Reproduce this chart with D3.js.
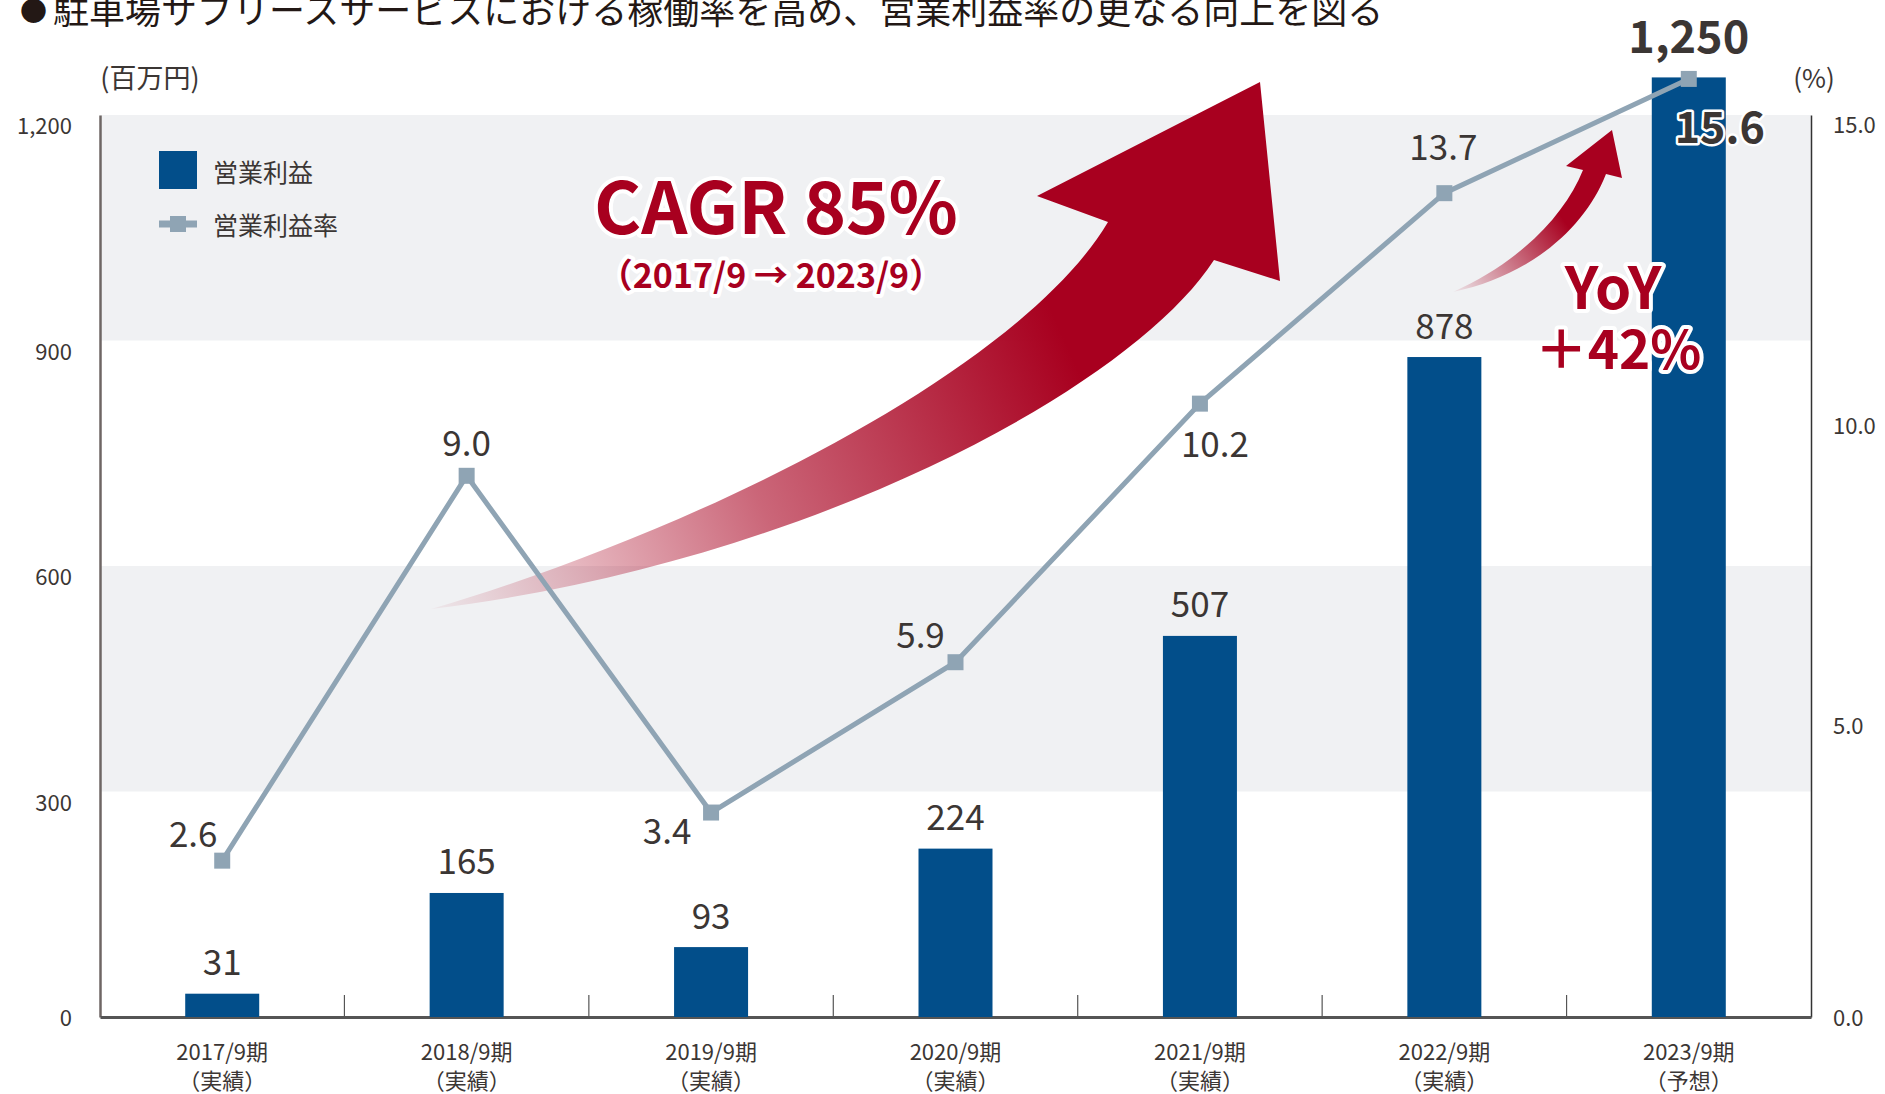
<!DOCTYPE html>
<html>
<head>
<meta charset="utf-8">
<script src="https://cdn.jsdelivr.net/npm/d3@7"></script>
<style>
  html, body { margin: 0; padding: 0; background: #fff; }
  svg { display: block; font-family: "Noto Sans CJK JP", "Noto Sans", sans-serif; }
</style>
</head>
<body>
<div id="target"></div>
<script>
// data
const categories = ['2017/9期', '2018/9期', '2019/9期', '2020/9期', '2021/9期', '2022/9期', '2023/9期']
const categoryNotes = ['（実績）', '（実績）', '（実績）', '（実績）', '（実績）', '（実績）', '（予想）']
const operatingProfit = [31, 165, 93, 224, 507, 878, 1250]
const profitRate = [2.6, 9.0, 3.4, 5.9, 10.2, 13.7, 15.6]
const leftTicks = [0, 300, 600, 900, 1200]
const rightTicks = [0, 5, 10, 15]

const colors = {
    bar: '#024e8a',
    line: '#8fa4b4',
    band: '#f0f1f3',
    text: '#3b3634',
    red: '#a8001f',
    axis: '#6e6664'
}

const width = 1885
const height = 1094
const margin = { left: 100, right: 1811, top: 115, bottom: 1017 }
const barWidth = 74

// label offsets for the rate line, relative to each marker
const rateLabelOffsets = [[-29, -29], [0, -35], [-44, 16], [-35, -30], [15, 38], [-1, -49], [31, 45]]

const svg = d3.select('#target').append('svg')
    .attr('width', width)
    .attr('height', height)

const x = d3.scaleBand()
    .domain(categories)
    .range([margin.left, margin.right])

const yLeft = d3.scaleLinear()
    .domain([0, 1200])
    .range([margin.bottom, margin.top])

const yRight = d3.scaleLinear()
    .domain([0, 15])
    .range([margin.bottom, margin.top])

const cx = c => x(c) + x.bandwidth() / 2

// grey bands
const bandPairs = [[300, 600], [900, 1200]]
svg.append('g')
    .selectAll('rect')
    .data(bandPairs)
    .enter()
    .append('rect')
    .attr('x', margin.left)
    .attr('width', margin.right - margin.left)
    .attr('y', d => yLeft(d[1]))
    .attr('height', d => yLeft(d[0]) - yLeft(d[1]))
    .attr('fill', colors.band)

// title
const title = svg.append('text')
    .attr('x', 20)
    .attr('y', 8)
    .attr('dominant-baseline', 'central')
    .attr('font-size', 36)
    .attr('fill', '#231815')
title.append('tspan')
    .attr('font-size', 27)
    .attr('dy', 1)
    .text('●')
title.append('tspan')
    .attr('dx', 6)
    .attr('dy', -1)
    .text('駐車場サブリースサービスにおける稼働率を高め、営業利益率の更なる向上を図る')

// unit labels
svg.append('text')
    .attr('x', 150).attr('y', 76)
    .attr('text-anchor', 'middle')
    .attr('dominant-baseline', 'central')
    .attr('font-size', 27)
    .attr('fill', colors.text)
    .text('(百万円)')

svg.append('text')
    .attr('x', 1814).attr('y', 76)
    .attr('text-anchor', 'middle')
    .attr('dominant-baseline', 'central')
    .attr('font-size', 26)
    .attr('fill', colors.text)
    .text('(%)')

// left axis
const leftAxis = svg.append('g')
    .attr('transform', `translate(${margin.left},0)`)
    .call(d3.axisLeft(yLeft).tickValues(leftTicks).tickSize(0).tickFormat(d3.format(',')))
leftAxis.select('.domain').attr('stroke', colors.axis).attr('stroke-width', 2.5)
leftAxis.selectAll('text')
    .attr('x', -28)
    .attr('dy', d => d === 0 ? '0.4em' : '0.85em')
    .attr('font-size', 22)
    .attr('font-family', '"Noto Sans CJK JP", sans-serif')
    .attr('fill', colors.text)

// right axis
const rightAxis = svg.append('g')
    .attr('transform', `translate(${margin.right},0)`)
    .call(d3.axisRight(yRight).tickValues(rightTicks).tickSize(0).tickFormat(d3.format('.1f')))
rightAxis.select('.domain').attr('stroke', '#333').attr('stroke-width', 1.5)
rightAxis.selectAll('text')
    .attr('x', 22)
    .attr('dy', d => d === 0 ? '0.4em' : '0.8em')
    .attr('font-size', 22)
    .attr('font-family', '"Noto Sans CJK JP", sans-serif')
    .attr('fill', colors.text)

// bottom axis
const bottomAxis = svg.append('g')
    .attr('transform', `translate(0,${margin.bottom})`)
    .call(d3.axisBottom(x).tickSize(0).tickFormat(''))
bottomAxis.select('.domain').attr('stroke', '#555').attr('stroke-width', 3)

// separators between categories
svg.append('g')
    .selectAll('line')
    .data(categories.slice(1))
    .enter()
    .append('line')
    .attr('x1', d => x(d)).attr('x2', d => x(d))
    .attr('y1', margin.bottom - 22).attr('y2', margin.bottom)
    .attr('stroke', '#555')
    .attr('stroke-width', 1.2)

// category labels
const catLabels = svg.append('g')
    .selectAll('text')
    .data(categories)
    .enter()
    .append('text')
    .attr('text-anchor', 'middle')
    .attr('font-size', 22)
    .attr('fill', colors.text)
catLabels.append('tspan')
    .attr('x', d => cx(d))
    .attr('y', 1050)
    .attr('dominant-baseline', 'central')
    .text(d => d)
catLabels.append('tspan')
    .attr('x', d => cx(d))
    .attr('y', 1079)
    .attr('dominant-baseline', 'central')
    .text((d, i) => categoryNotes[i])

// gradients for arrows
const defs = svg.append('defs')
const bigGrad = defs.append('linearGradient')
    .attr('id', 'bigGrad')
    .attr('gradientUnits', 'userSpaceOnUse')
    .attr('x1', 431).attr('y1', 609)
    .attr('x2', 1060).attr('y2', 330)
bigGrad.append('stop').attr('offset', 0).attr('stop-color', colors.red).attr('stop-opacity', 0.04)
bigGrad.append('stop').attr('offset', 0.5).attr('stop-color', colors.red).attr('stop-opacity', 0.6)
bigGrad.append('stop').attr('offset', 1).attr('stop-color', colors.red).attr('stop-opacity', 1)

const smallGrad = defs.append('linearGradient')
    .attr('id', 'smallGrad')
    .attr('gradientUnits', 'userSpaceOnUse')
    .attr('x1', 1453).attr('y1', 292)
    .attr('x2', 1560).attr('y2', 215)
smallGrad.append('stop').attr('offset', 0).attr('stop-color', colors.red).attr('stop-opacity', 0.05)
smallGrad.append('stop').attr('offset', 1).attr('stop-color', colors.red).attr('stop-opacity', 1)

// CAGR arrow
const bigArrow = d3.path()
bigArrow.moveTo(431, 609)
bigArrow.bezierCurveTo(700, 530, 1020, 370, 1108, 222)
bigArrow.lineTo(1037, 196)
bigArrow.lineTo(1260, 82)
bigArrow.lineTo(1280, 281)
bigArrow.lineTo(1214, 260)
bigArrow.bezierCurveTo(1130, 390, 800, 565, 431, 609)
bigArrow.closePath()
svg.append('path')
    .attr('d', bigArrow.toString())
    .attr('fill', 'url(#bigGrad)')

// YoY arrow
const smallArrow = d3.path()
smallArrow.moveTo(1453, 292)
smallArrow.bezierCurveTo(1520, 262, 1565, 215, 1583, 170)
smallArrow.lineTo(1566, 166)
smallArrow.lineTo(1612, 130)
smallArrow.lineTo(1622, 178)
smallArrow.lineTo(1606, 174)
smallArrow.bezierCurveTo(1585, 228, 1530, 276, 1453, 292)
smallArrow.closePath()
svg.append('path')
    .attr('d', smallArrow.toString())
    .attr('fill', 'url(#smallGrad)')

// bars
svg.append('g')
    .selectAll('rect')
    .data(operatingProfit)
    .enter()
    .append('rect')
    .attr('x', (d, i) => cx(categories[i]) - barWidth / 2)
    .attr('width', barWidth)
    .attr('y', d => yLeft(d))
    .attr('height', d => yLeft(0) - yLeft(d))
    .attr('fill', colors.bar)

// bar value labels
svg.append('g')
    .selectAll('text')
    .data(operatingProfit)
    .enter()
    .append('text')
    .attr('x', (d, i) => cx(categories[i]))
    .attr('y', (d, i) => yLeft(d) - (i === operatingProfit.length - 1 ? 44 : 34))
    .attr('text-anchor', 'middle')
    .attr('dominant-baseline', 'central')
    .attr('font-size', (d, i) => i === operatingProfit.length - 1 ? 45 : 35)
    .attr('font-weight', (d, i) => i === operatingProfit.length - 1 ? 'bold' : 'normal')
    .attr('fill', colors.text)
    .text(d => d3.format(',')(d))

// rate line
const line = d3.line()
    .x((d, i) => cx(categories[i]))
    .y(d => yRight(d))

svg.append('path')
    .attr('d', line(profitRate))
    .attr('fill', 'none')
    .attr('stroke', colors.line)
    .attr('stroke-width', 5)

svg.append('g')
    .selectAll('rect')
    .data(profitRate)
    .enter()
    .append('rect')
    .attr('x', (d, i) => cx(categories[i]) - 8)
    .attr('y', d => yRight(d) - 8)
    .attr('width', 16)
    .attr('height', 16)
    .attr('fill', colors.line)

// rate labels
svg.append('g')
    .selectAll('text')
    .data(profitRate)
    .enter()
    .append('text')
    .attr('x', (d, i) => cx(categories[i]) + rateLabelOffsets[i][0])
    .attr('y', (d, i) => yRight(d) + rateLabelOffsets[i][1])
    .attr('text-anchor', 'middle')
    .attr('dominant-baseline', 'central')
    .attr('font-size', (d, i) => i === profitRate.length - 1 ? 43 : 35)
    .attr('font-weight', (d, i) => i === profitRate.length - 1 ? 'bold' : 'normal')
    .attr('fill', colors.text)
    .attr('stroke', (d, i) => i === profitRate.length - 1 ? '#fff' : 'none')
    .attr('stroke-width', 5)
    .attr('stroke-linejoin', 'round')
    .attr('paint-order', 'stroke')
    .text(d => d3.format('.1f')(d))

// annotations
const note = (txt, xPos, yPos, size) => svg.append('text')
    .attr('x', xPos)
    .attr('y', yPos)
    .attr('text-anchor', 'middle')
    .attr('dominant-baseline', 'central')
    .attr('font-size', size)
    .attr('font-weight', 'bold')
    .attr('fill', colors.red)
    .attr('stroke', '#fff')
    .attr('stroke-width', 8)
    .attr('stroke-linejoin', 'round')
    .attr('paint-order', 'stroke')
    .text(txt)

note('CAGR 85%', 776, 202, 72)
note('（2017/9 → 2023/9）', 771, 273, 34)
note('YoY', 1613, 284, 58)
note('＋42%', 1618, 346, 53)

// legend
const legend = svg.append('g')
legend.append('rect')
    .attr('x', 159).attr('y', 151)
    .attr('width', 38).attr('height', 38)
    .attr('fill', colors.bar)
legend.append('line')
    .attr('x1', 159).attr('x2', 197)
    .attr('y1', 224).attr('y2', 224)
    .attr('stroke', colors.line)
    .attr('stroke-width', 7)
legend.append('rect')
    .attr('x', 170).attr('y', 216)
    .attr('width', 16).attr('height', 16)
    .attr('fill', colors.line)
legend.selectAll('text')
    .data(['営業利益', '営業利益率'])
    .enter()
    .append('text')
    .attr('x', 213)
    .attr('y', (d, i) => i === 0 ? 171 : 224)
    .attr('dominant-baseline', 'central')
    .attr('font-size', 25)
    .attr('fill', colors.text)
    .text(d => d)
</script>
</body>
</html>
